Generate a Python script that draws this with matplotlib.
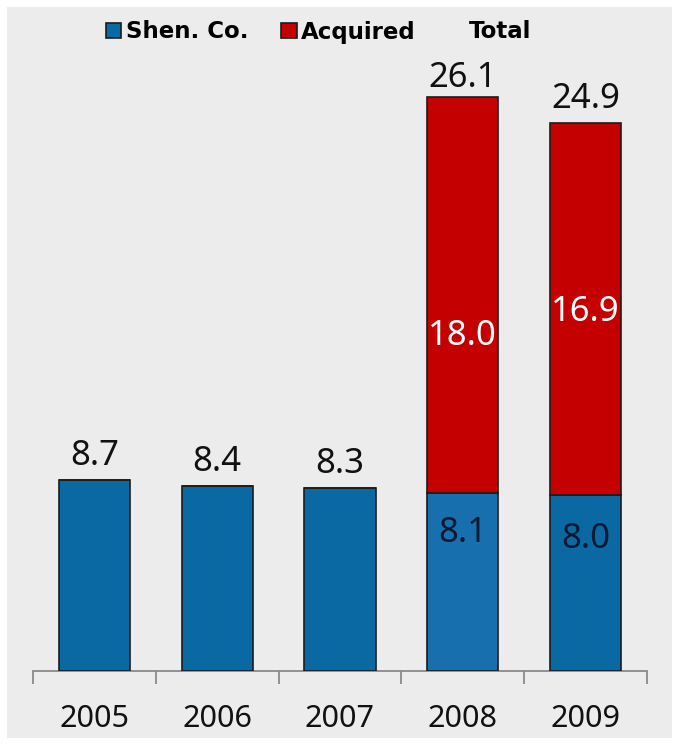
import matplotlib
matplotlib.use("Agg")
import matplotlib.pyplot as plt
from matplotlib.patches import Rectangle, Patch
from matplotlib.lines import Line2D

# Data
years = ["2005", "2006", "2007", "2008", "2009"]
shen_co = [8.7, 8.4, 8.3, 8.1, 8.0]
acquired = [0.0, 0.0, 0.0, 18.0, 16.9]
totals = [8.7, 8.4, 8.3, 26.1, 24.9]

BLUE = "#0a69a3"
BLUE_LIGHT = "#176fae"
RED = "#c40000"
EDGE = "#1c1c1c"
PANEL = "#ececec"
NUM_FONT = "Noto Sans"

W, H = 685, 747
fig = plt.figure(figsize=(W / 100, H / 100), dpi=100, facecolor="white")

# grey panel behind the chart
fig.patches.append(Rectangle((7 / W, 9 / H), 665 / W, 731 / H,
                             transform=fig.transFigure, facecolor=PANEL,
                             edgecolor="none", zorder=-10))

ax = fig.add_axes([33 / W, 76 / H, 614 / W, 660 / H])
ax.set_facecolor("none")
ax.set_zorder(2)

x = list(range(len(years)))
blue_colors = [BLUE, BLUE, BLUE, BLUE_LIGHT, BLUE]
ax.bar(x, shen_co, width=0.58, color=blue_colors, edgecolor=EDGE, linewidth=1.2, zorder=3)
ax.bar(x, acquired, bottom=shen_co, width=0.58, color=RED, edgecolor=EDGE,
       linewidth=1.2, zorder=3)

ax.set_xlim(-0.5, len(years) - 0.5)
ax.set_ylim(0, 30)

# axis styling: only the baseline with divider ticks
for side in ("left", "right", "top"):
    ax.spines[side].set_visible(False)
ax.spines["bottom"].set_color("#8a8a8a")
ax.spines["bottom"].set_linewidth(1.3)
ax.set_yticks([])
ax.set_xticks([i - 0.5 for i in range(len(years) + 1)])
ax.set_xticklabels([])
ax.tick_params(axis="x", which="major", direction="out", length=9, width=1.3,
               color="#8a8a8a")
ax.set_xticks(x, minor=True)
ax.set_xticklabels(years, minor=True, fontsize=22, family=NUM_FONT, color="#111111")
ax.tick_params(axis="x", which="minor", length=0, pad=24)

# total labels above each bar
top_pad = [5, 5, 5, 1, 5]
for xi, t, p in zip(x, totals, top_pad):
    ax.annotate(f"{t:.1f}", (xi, t), xytext=(0, p), textcoords="offset points",
                ha="center", va="bottom", fontsize=25, family=NUM_FONT,
                color="#111111", zorder=5)

# segment labels inside the stacked bars
for xi, s, a in zip(x, shen_co, acquired):
    if a > 0:
        ax.annotate(f"{a:.1f}", (xi, s + a / 2), xytext=(0, -30 if xi == 3 else -2),
                    textcoords="offset points", ha="center", va="center",
                    fontsize=25, family=NUM_FONT, color="white", zorder=5)
        ax.annotate(f"{s:.1f}", (xi, s / 2), xytext=(0, 35 if xi == 3 else 32),
                    textcoords="offset points", ha="center", va="center",
                    fontsize=25, family=NUM_FONT, color="#0b1830", zorder=5)

# legend across the top
handles = [
    Patch(facecolor=BLUE, edgecolor=EDGE, linewidth=1.2),
    Patch(facecolor=RED, edgecolor=EDGE, linewidth=1.2),
    Line2D([], [], color="none"),
]
fig.legend(handles, ["Shen. Co.", "Acquired", "Total"], loc="center left",
           bbox_to_anchor=(106 / W, 1 - 32 / H), ncol=3, frameon=False,
           borderpad=0, borderaxespad=0, handlelength=0.66, handleheight=0.66,
           handletextpad=0.2, columnspacing=1.45,
           prop={"family": "DejaVu Sans", "weight": "bold", "size": 16.5})

fig.savefig("out.png", dpi=100, facecolor="white")
